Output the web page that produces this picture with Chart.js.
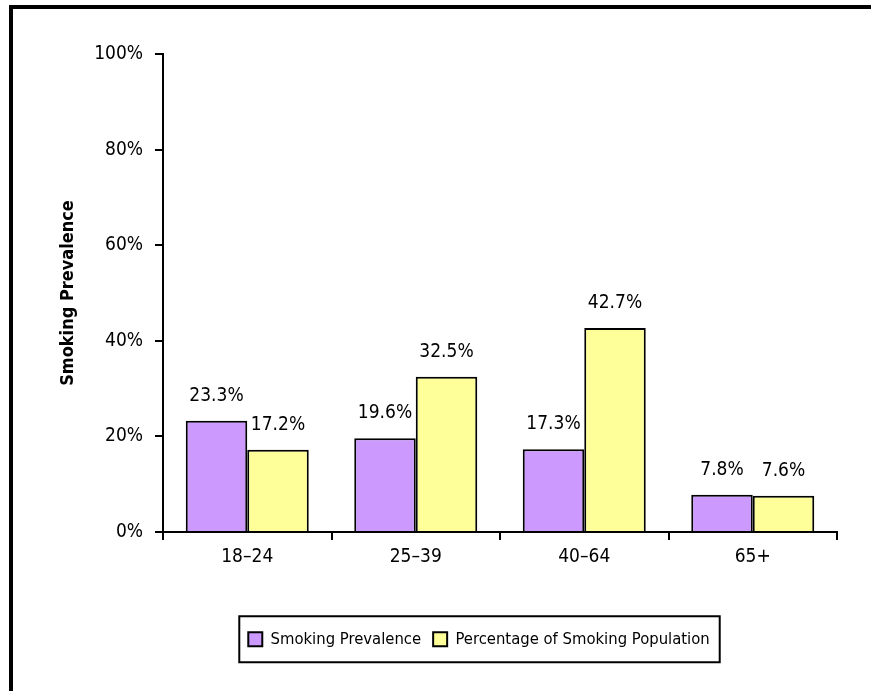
<!DOCTYPE html>
<html>
<head>
<meta charset="utf-8">
<script src="https://cdn.jsdelivr.net/npm/chart.js@4/dist/chart.umd.min.js"></script>
<style>
  html, body { margin: 0; padding: 0; background: #fff; }
  #wrap { position: relative; width: 871px; height: 691px; }
</style>
</head>
<body>
<div id="wrap"><canvas id="grafico" width="871" height="691"></canvas></div>
<script>
const categorias = ['18\u201324', '25\u201339', '40\u201364', '65+'];
const prevalencia = [23.3, 19.6, 17.3, 7.8];
const poblacion = [17.2, 32.5, 42.7, 7.6];
const ticksY = [0, 20, 40, 60, 80, 100];

const FUENTE = "'DejaVu Sans Condensed', 'Liberation Sans Narrow', sans-serif";

// marco negro (solo arriba e izquierda, como en la imagen)
const marco = {
  id: 'marco',
  beforeDraw(chart) {
    const ctx = chart.ctx;
    ctx.save();
    ctx.fillStyle = '#000';
    ctx.fillRect(9, 5, 862, 4);
    ctx.fillRect(9, 5, 4, 686);
    ctx.restore();
  }
};

// etiquetas de valor encima de cada barra
const etiquetas = {
  id: 'etiquetas',
  afterDatasetsDraw(chart) {
    const ctx = chart.ctx;
    ctx.save();
    ctx.font = '19px ' + FUENTE;
    ctx.fillStyle = '#000';
    ctx.textAlign = 'center';
    ctx.textBaseline = 'middle';
    chart.data.datasets.forEach((ds, i) => {
      chart.getDatasetMeta(i).data.forEach((bar, j) => {
        ctx.fillText(ds.data[j].toFixed(1) + '%', bar.x, bar.y - 25);
      });
    });
    ctx.restore();
  }
};

// mover la leyenda y dibujarle un recuadro
const leyendaCaja = {
  id: 'leyendaCaja',
  afterLayout(chart) {
    const lg = chart.legend;
    const dx = 479 - (lg.left + lg.right) / 2;
    lg.left += dx;
    lg.right += dx;
    const h = lg.height;
    lg.top = 619;
    lg.bottom = 619 + h;
  },
  afterDraw(chart) {
    const hb = chart.legend.legendHitBoxes;
    if (!hb || !hb.length) return;
    const ultimo = hb[hb.length - 1];
    const izq = hb[0].left - 9;
    const der = ultimo.left + ultimo.width + 10;
    const centro = hb[0].top + hb[0].height / 2;
    const ctx = chart.ctx;
    ctx.save();
    ctx.strokeStyle = '#000';
    ctx.lineWidth = 2;
    ctx.strokeRect(izq, centro - 23, der - izq, 46);
    ctx.restore();
  }
};

const ctx = document.getElementById('grafico').getContext('2d');
new Chart(ctx, {
  type: 'bar',
  data: {
    labels: categorias,
    datasets: [{
      label: 'Smoking Prevalence',
      data: prevalencia,
      backgroundColor: '#CC99FF',
      borderColor: '#000',
      borderWidth: 2
    }, {
      label: 'Percentage of Smoking Population',
      data: poblacion,
      backgroundColor: '#FFFF99',
      borderColor: '#000',
      borderWidth: 2
    }]
  },
  options: {
    responsive: false,
    animation: false,
    datasets: {
      bar: { categoryPercentage: 0.73, barPercentage: 1 }
    },
    layout: { padding: { left: 0, right: 34, top: 54, bottom: 0 } },
    plugins: {
      legend: {
        position: 'bottom',
        labels: {
          color: '#000',
          font: { family: FUENTE, size: 16.5 },
          boxWidth: 14,
          boxHeight: 14,
          padding: 12
        }
      },
      tooltip: { enabled: false }
    },
    scales: {
      x: {
        afterFit(scale) { scale.height = 120.5; },
        grid: { offset: true, drawOnChartArea: false, drawTicks: true, tickLength: 8, color: '#000', lineWidth: 2 },
        border: { color: '#000', width: 2 },
        ticks: { color: '#000', padding: 6, font: { family: FUENTE, size: 19 } }
      },
      y: {
        min: 0,
        max: 100,
        afterFit(scale) { scale.width = 163; },
        afterBuildTicks(scale) { scale.ticks = ticksY.map(v => ({ value: v })); },
        grid: { drawOnChartArea: false, drawTicks: true, tickLength: 8, color: '#000', lineWidth: 2 },
        border: { color: '#000', width: 2 },
        ticks: { color: '#000', padding: 12, font: { family: FUENTE, size: 19 }, callback: v => v + '%' },
        title: {
          display: true,
          text: 'Smoking Prevalence',
          color: '#000',
          font: { family: FUENTE, size: 18, weight: 'bold' },
          padding: { top: 58, bottom: 0 }
        }
      }
    }
  },
  plugins: [marco, etiquetas, leyendaCaja]
});
</script>
</body>
</html>
